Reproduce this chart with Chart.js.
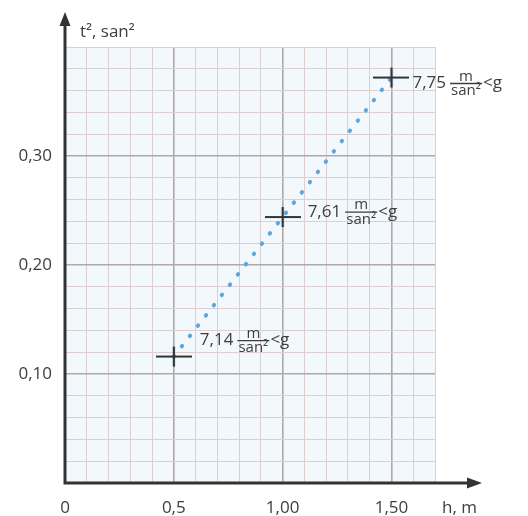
<!DOCTYPE html>
<html>
<head>
<meta charset="utf-8">
<script src="https://cdn.jsdelivr.net/npm/chart.js@4"></script>
<style>
html,body{margin:0;padding:0;background:#fff;}
#wrap{width:528px;height:516px;position:relative;}
</style>
</head>
<body>
<div id="wrap"><canvas id="c" width="528" height="516"></canvas></div>
<script>
// ---- data ----
const heights = [0.5, 1.0, 1.5];            // h, m
const tSquared = [0.116, 0.244, 0.372];     // t², san²
const gValues = ["7,14", "7,61", "7,75"];   // g labels
const xTickValues = [0, 0.5, 1.0, 1.5];
const xTickLabels = ["0", "0,5", "1,00", "1,50"];
const yTickValues = [0.1, 0.2, 0.3];
const yTickLabels = ["0,10", "0,20", "0,30"];
const xTitle = "h, m";
const yTitle = "t², san²";

// ---- styles ----
const FONT = "'Open Sans', sans-serif";
const TEXT = "#3e3e3e";
const labelOffsets = [[26, -16], [25, -5], [21, 6]];

function crossImage() {
  const c = document.createElement('canvas');
  c.width = 36; c.height = 22;
  const g = c.getContext('2d');
  g.strokeStyle = '#2e3638';
  g.lineWidth = 2.2;
  g.beginPath();
  g.moveTo(0, 11); g.lineTo(36, 11);
  g.moveTo(18, 1); g.lineTo(18, 21);
  g.stroke();
  return c;
}

const near = (v, arr) => arr.findIndex(a => Math.abs(a - v) < 1e-6);

const bgPlugin = {
  id: 'bg',
  beforeDraw(chart) {
    const {ctx, chartArea: a} = chart;
    ctx.save();
    ctx.fillStyle = '#f3f8fc';
    ctx.fillRect(a.left, a.top, a.right - a.left, a.bottom - a.top);
    ctx.restore();
  }
};

const axesPlugin = {
  id: 'axes',
  afterDatasetsDraw(chart) {
    const {ctx} = chart;
    const x0 = chart.scales.x.getPixelForValue(0);
    const y0 = chart.scales.y.getPixelForValue(0);
    ctx.save();
    ctx.strokeStyle = '#333';
    ctx.fillStyle = '#333';
    ctx.lineWidth = 3;
    ctx.beginPath();
    ctx.moveTo(x0, y0 + 1.5); ctx.lineTo(x0, 22);
    ctx.moveTo(x0 - 1.5, y0); ctx.lineTo(472, y0);
    ctx.stroke();
    ctx.beginPath();
    ctx.moveTo(x0, 12); ctx.lineTo(x0 - 5.5, 26); ctx.lineTo(x0 + 5.5, 26); ctx.closePath();
    ctx.fill();
    ctx.beginPath();
    ctx.moveTo(482, y0); ctx.lineTo(467, y0 - 5.5); ctx.lineTo(467, y0 + 5.5); ctx.closePath();
    ctx.fill();

    // titles
    ctx.fillStyle = TEXT;
    ctx.font = '17px ' + FONT;
    ctx.textBaseline = 'alphabetic';
    ctx.textAlign = 'left';
    ctx.fillText(yTitle, 80, 37);
    ctx.fillText(xTitle, 442, 513);

    // g annotations
    const meta = chart.getDatasetMeta(0);
    meta.data.forEach((pt, i) => {
      const [dx, dy] = labelOffsets[i];
      let x = pt.x + dx;
      const y = pt.y + dy;
      ctx.font = '17px ' + FONT;
      ctx.textBaseline = 'middle';
      ctx.textAlign = 'left';
      ctx.fillText(gValues[i], x, y);
      x += ctx.measureText(gValues[i]).width + 4;
      const bw = 32;
      ctx.strokeStyle = TEXT;
      ctx.lineWidth = 1.3;
      ctx.beginPath();
      ctx.moveTo(x, y); ctx.lineTo(x + bw, y);
      ctx.stroke();
      ctx.font = '15px ' + FONT;
      ctx.textAlign = 'center';
      ctx.textBaseline = 'alphabetic';
      ctx.fillText('m', x + bw / 2, y - 3);
      ctx.textBaseline = 'top';
      ctx.fillText('san²', x + bw / 2, y);
      ctx.font = '17px ' + FONT;
      ctx.textAlign = 'left';
      ctx.textBaseline = 'middle';
      ctx.fillText('<g', x + bw + 1, y);
    });
    ctx.restore();
  }
};

new Chart(document.getElementById('c'), {
  type: 'scatter',
  data: {
    datasets: [{
      data: heights.map((h, i) => ({x: h, y: tSquared[i]})),
      showLine: true,
      borderColor: '#5fa6dc',
      borderWidth: 4,
      borderDash: [0.5, 12.5],
      borderCapStyle: 'round',
      pointStyle: crossImage(),
      pointRadius: 10,
      pointHoverRadius: 10
    }]
  },
  options: {
    responsive: false,
    animation: false,
    events: [],
    layout: {padding: {top: 47, right: 93, left: 0, bottom: 0}},
    plugins: {legend: {display: false}, tooltip: {enabled: false}},
    scales: {
      x: {
        type: 'linear', min: 0, max: 1.7,
        afterFit(s) { s.height = 33; },
        border: {display: false},
        grid: {
          drawTicks: false,
          color: c => near(c.tick.value, [0.5, 1.0, 1.5]) >= 0 ? '#b3a8a8' : '#dccfcf',
          lineWidth: c => near(c.tick.value, [0.5, 1.0, 1.5]) >= 0 ? 1.6 : 1
        },
        ticks: {
          stepSize: 0.1,
          autoSkip: false,
          maxRotation: 0,
          padding: 15,
          color: TEXT,
          font: {family: FONT, size: 17},
          callback: v => { const k = near(v, xTickValues); return k >= 0 ? xTickLabels[k] : ''; }
        }
      },
      y: {
        type: 'linear', min: 0, max: 0.4,
        afterFit(s) { s.width = 65; },
        border: {display: false},
        grid: {
          drawTicks: false,
          color: c => near(c.tick.value, [0.1, 0.2, 0.3]) >= 0 ? '#b3a8a8' : '#dccfcf',
          lineWidth: c => near(c.tick.value, [0.1, 0.2, 0.3]) >= 0 ? 1.6 : 1
        },
        ticks: {
          stepSize: 0.02,
          autoSkip: false,
          padding: 13,
          color: TEXT,
          font: {family: FONT, size: 17},
          callback: v => { const k = near(v, yTickValues); return k >= 0 ? yTickLabels[k] : ''; }
        }
      }
    }
  },
  plugins: [bgPlugin, axesPlugin]
});
</script>
</body>
</html>
